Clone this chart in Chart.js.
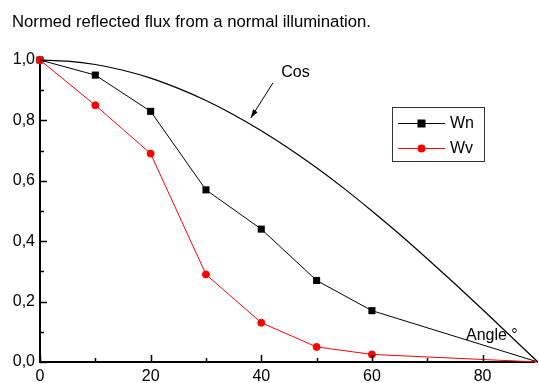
<!DOCTYPE html>
<html>
<head>
<meta charset="utf-8">
<script src="https://cdn.jsdelivr.net/npm/chart.js@4.4.0/dist/chart.umd.min.js"></script>
<style>
  body { margin: 0; background: #fff; }
  #wrap { width: 539px; height: 383px; }
</style>
</head>
<body>
<div id="wrap"><canvas id="myChart" width="539" height="383"></canvas></div>
<script>
const angles = [0, 10, 20, 30, 40, 50, 60, 90];
const wn = [1.0, 0.95, 0.83, 0.57, 0.44, 0.27, 0.17, 0.0];
const wv = [1.0, 0.85, 0.69, 0.29, 0.13, 0.05, 0.025, 0.0];
const cosAngles = [0, 5, 10, 15, 20, 25, 30, 35, 40, 45, 50, 55, 60, 65, 70, 75, 80, 85, 90];
const cosValues = [1.0, 0.996, 0.985, 0.966, 0.94, 0.906, 0.866, 0.819, 0.766, 0.707, 0.643, 0.574, 0.5, 0.423, 0.342, 0.259, 0.174, 0.087, 0.0];
const xTicks = [0, 20, 40, 60, 80];
const yTicks = [0, 0.2, 0.4, 0.6, 0.8, 1.0];

function toPoints(xs, ys) {
    return xs.map(function (x, i) { return { x: x, y: ys[i] }; });
}

// hide markers of the last point (off canvas)
function radii(n, r) {
    let out = [];
    for (let i = 0; i < n; i++) out.push(i == n - 1 ? 0 : r);
    return out;
}

const extras = {
    id: 'extras',
    afterDraw(chart) {
        const ctx = chart.ctx;
        const xs = chart.scales.x, ys = chart.scales.y;
        const left = chart.chartArea.left, bottom = chart.chartArea.bottom;
        ctx.save();
        ctx.strokeStyle = '#000';
        ctx.lineWidth = 1.5;
        // inward ticks
        for (let v = 0; v <= 80; v += 10) {
            const px = Math.round(xs.getPixelForValue(v)) + 0.5;
            const len = v % 20 == 0 ? 7 : 4;
            ctx.beginPath();
            ctx.moveTo(px, bottom);
            ctx.lineTo(px, bottom - len);
            ctx.stroke();
        }
        for (let i = 0; i <= 10; i++) {
            const py = Math.round(ys.getPixelForValue(i / 10)) + 0.5;
            const len = i % 2 == 0 ? 7 : 4;
            ctx.beginPath();
            ctx.moveTo(left, py);
            ctx.lineTo(left + len, py);
            ctx.stroke();
        }

        // title
        ctx.fillStyle = '#000';
        ctx.font = '16.7px "Liberation Sans", Arial, sans-serif';
        ctx.textBaseline = 'alphabetic';
        ctx.textAlign = 'left';
        ctx.fillText('Normed reflected flux from a normal illumination.', 12, 27);

        ctx.font = '16px "Liberation Sans", Arial, sans-serif';
        // Cos label and arrow
        ctx.fillText('Cos', xs.getPixelForValue(43.6), ys.getPixelForValue(0.944));
        const tx = xs.getPixelForValue(42.1), ty = ys.getPixelForValue(0.924);
        const hx = xs.getPixelForValue(38.1), hy = ys.getPixelForValue(0.808);
        ctx.lineWidth = 1;
        ctx.beginPath();
        ctx.moveTo(tx, ty);
        ctx.lineTo(hx, hy);
        ctx.stroke();
        const ang = Math.atan2(hy - ty, hx - tx);
        ctx.beginPath();
        ctx.moveTo(hx, hy);
        ctx.lineTo(hx - 9 * Math.cos(ang - 0.3), hy - 9 * Math.sin(ang - 0.3));
        ctx.lineTo(hx - 9 * Math.cos(ang + 0.3), hy - 9 * Math.sin(ang + 0.3));
        ctx.closePath();
        ctx.fill();

        // Angle label
        ctx.fillText('Angle °', xs.getPixelForValue(77.0), ys.getPixelForValue(0.073));

        // legend
        ctx.lineWidth = 1;
        ctx.strokeStyle = '#333';
        ctx.strokeRect(392.5, 107.5, 92, 54);
        const rows = [
            { y: 123, color: '#000', label: 'Wn', square: true },
            { y: 148, color: '#ff0000', label: 'Wv', square: false }
        ];
        rows.forEach(function (r) {
            ctx.strokeStyle = r.color;
            ctx.fillStyle = r.color;
            ctx.beginPath();
            ctx.moveTo(398, r.y + 0.5);
            ctx.lineTo(445, r.y + 0.5);
            ctx.stroke();
            if (r.square) {
                ctx.fillRect(417.5, r.y - 3.5, 8, 8);
            } else {
                ctx.beginPath();
                ctx.arc(421.5, r.y + 0.5, 4, 0, Math.PI * 2);
                ctx.fill();
            }
            ctx.fillStyle = '#000';
            ctx.textBaseline = 'middle';
            ctx.fillText(r.label, 450, r.y + 1);
        });
        ctx.restore();
    }
};

const data = {
    datasets: [
        {
            label: 'Wv',
            data: toPoints(angles, wv),
            borderColor: '#ff0000',
            backgroundColor: '#ff0000',
            borderWidth: 1,
            pointRadius: radii(angles.length, 3.5),
            pointBorderWidth: 1,
            pointStyle: 'circle',
            order: 0,
            clip: 10
        },
        {
            label: 'Wn',
            data: toPoints(angles, wn),
            borderColor: '#000',
            backgroundColor: '#000',
            borderWidth: 1,
            pointRadius: radii(angles.length, 5),
            pointBorderWidth: 0,
            pointStyle: 'rect',
            order: 1,
            clip: 10
        },
        {
            label: 'Cos',
            data: toPoints(cosAngles, cosValues),
            borderColor: '#000',
            borderWidth: 1.2,
            pointRadius: 0,
            cubicInterpolationMode: 'monotone',
            order: 2,
            clip: 10
        }
    ]
};

const config = {
    type: 'line',
    data: data,
    options: {
        responsive: false,
        animation: false,
        layout: { padding: { top: 60, left: 0, right: 0, bottom: 0 } },
        plugins: {
            legend: { display: false },
            tooltip: { enabled: false }
        },
        scales: {
            x: {
                type: 'linear',
                min: 0,
                max: 89.3,
                afterBuildTicks: function (scale) {
                    scale.ticks = xTicks.map(function (v) { return { value: v }; });
                },
                afterFit: function (scale) { scale.height = 21; },
                grid: { display: false, drawTicks: false },
                border: { display: true, color: '#000', width: 2 },
                ticks: {
                    color: '#000',
                    padding: 5,
                    maxRotation: 0,
                    font: { family: '"Liberation Sans", Arial, sans-serif', size: 16 }
                }
            },
            y: {
                min: 0,
                max: 1.0,
                afterBuildTicks: function (scale) {
                    scale.ticks = yTicks.map(function (v) { return { value: v }; });
                },
                afterFit: function (scale) { scale.width = 40; },
                grid: { display: false, drawTicks: false },
                border: { display: true, color: '#000', width: 2 },
                ticks: {
                    color: '#000',
                    padding: 5,
                    font: { family: '"Liberation Sans", Arial, sans-serif', size: 16 },
                    callback: function (v) { return v.toFixed(1).replace('.', ','); }
                }
            }
        }
    },
    plugins: [extras]
};

const myChart = new Chart(document.getElementById('myChart'), config);
</script>
</body>
</html>
